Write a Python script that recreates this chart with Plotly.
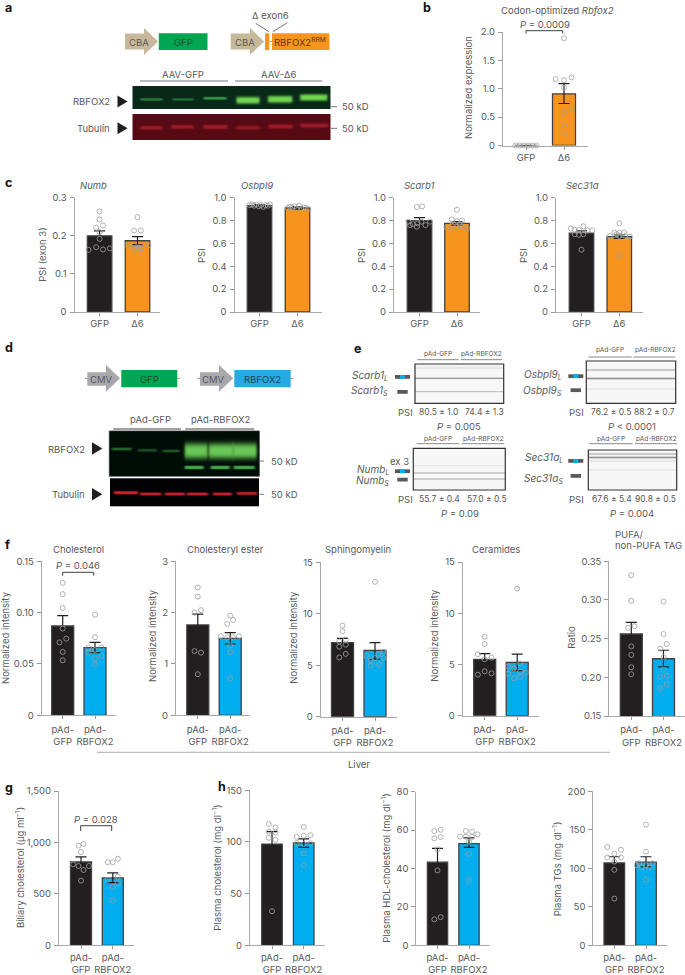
import numpy as np
import plotly.graph_objects as go

W, H = 685, 975
TXT = "#58595b"
FONT = "Inter"
BLACK, ORANGE, BLUE = "#231f20", "#f7941d", "#00aeef"

# --- values ---
# b
b_means = [0, 0.91]
b_hi = [0, 1.09]
b_lo = [0, 0.74]
b_gfp = [0, 0, 0, 0, 0, 0]
b_gfp_dx = [-.28, -.17, -.06, .06, .17, .28]
b_d6 = [1.89, 1.17, 1.15, 1.2, 1.02, .64, .58, .36, .21]
b_d6_dx = [0, -.22, 0, .2, 0, .2, 0, 0, 0]
# c
numb_means = [.2, .187]
numb_hi = [.213, .198]
numb_lo = [.187, .177]
numb_gfp = [.264, .243, .227, .221, .21, .192, .17, .163, .164, .167]
numb_gfp_dx = [0, 0, .09, -.09, 0, 0, -.09, -.29, .09, .27]
numb_d6 = [.249, .214, .214, .176, .174, .173, .175, .154, .167, .167]
numb_d6_dx = [0, -.09, .09, -.27, -.09, .09, .29, 0, -.09, .09]

osb_means = [.93, .91]
osb_hi = [.94, .92]
osb_lo = [.92, .90]
osb_gfp = [.935, .94, .93, .94, .925, .935, .92, .935, .93, .94]
osb_d6 = [.91, .92, .915, .925, .905, .93, .9, .915, .91, .9]
osb_dx = [-.26, -.2, -.14, -.08, -.02, .04, .1, .16, .22, .28]

sca_means = [.80, .775]
sca_hi = [.825, .79]
sca_lo = [.78, .76]
sca_gfp = [.918, .924, .79, .77, .746, .79, .76, .79, .76, .775]
sca_gfp_dx = [-.07, .07, -.3, -.18, -.07, .05, .16, .28, -.25, -.05]
sca_d6 = [.895, .81, .796, .8, .74, .755, .745, .75, .73, .77]
sca_d6_dx = [0, -.14, 0, .13, -.28, -.14, 0, .13, .27, .07]

sec_means = [.69, .66]
sec_hi = [.71, .675]
sec_lo = [.67, .645]
sec_gfp = [.73, .75, .717, .715, .715, .68, .675, .68, .545, .72]
sec_gfp_dx = [-.28, .05, -.07, .16, .28, -.18, -.07, .05, 0, -.18]
sec_d6 = [.775, .495, .695, .695, .695, .665, .665, .665, .66, .68]
sec_d6_dx = [0, 0, -.13, 0, .13, -.25, 0, .16, .28, -.07]
# f
chol_means = [.087, .066]
chol_hi = [.097, .071]
chol_lo = [.078, .061]
chol_gfp = [.129, .118, .1045, .0845, .0747, .071, .0617, .0536]
chol_gfp_dx = [0, 0, 0, 0, .11, -.1, 0, 0]
chol_rb = [.098, .076, .066, .066, .061, .058, .0555, .0497, .0636]
chol_rb_dx = [0, 0, -.2, .2, -.2, .2, 0, 0, 0]

ce_means = [1.76, 1.5]
ce_hi = [1.97, 1.61]
ce_lo = [1.55, 1.39]
ce_gfp = [2.49, 2.31, 2.05, 2.0, 1.25, 1.22, .8]
ce_gfp_dx = [0, 0, .1, -.1, -.1, .1, 0]
ce_rb = [1.94, 1.86, 1.78, 1.54, 1.54, 1.52, 1.52, 1.36, 1.23, .72]
ce_rb_dx = [0, .09, -.09, -.29, .27, -.09, .09, 0, 0, 0]

sm_means = [7.2, 6.45]
sm_hi = [7.6, 7.2]
sm_lo = [6.8, 5.6]
sm_gfp = [8.85, 8.3, 7.5, 7.3, 7, 6.8, 6.1, 5.75]
sm_gfp_dx = [0, 0, .1, -.1, .1, -.1, .1, -.1]
sm_rb = [13.1, 6.3, 6.1, 5.9, 5.7, 5.7, 5.45, 5.1, 4.96]
sm_rb_dx = [0, .26, .1, -.26, .26, 0, -.13, .13, -.13]

cer_means = [5.5, 5.2]
cer_hi = [6.05, 6.0]
cer_lo = [5.0, 4.4]
cer_gfp = [7.7, 7, 6, 5.67, 5.5, 4.33, 4, 4.13]
cer_gfp_dx = [0, 0, -.21, .21, 0, 0, -.21, .21]
cer_rb = [12.4, 5.1, 4.8, 4.6, 4.3, 4.1, 4.2, 3.8, 3.65]
cer_rb_dx = [0, .09, -.28, -.1, .09, -.28, .27, .09, -.1]

pufa_means = [.256, .224]
pufa_hi = [.271, .235]
pufa_lo = [.24, .2135]
pufa_gfp = [.332, .299, .266, .264, .24, .229, .213, .204]
pufa_gfp_dx = [0, 0, .1, -.1, 0, 0, 0, 0]
pufa_rb = [.298, .256, .243, .237, .226, .21, .202, .2, .191, .186]
pufa_rb_dx = [0, 0, .1, -.1, 0, 0, .1, -.1, .1, -.1]
# g
bil_means = [810, 655]
bil_hi = [860, 705]
bil_lo = [760, 610]
bil_gfp = [985, 969, 907, 787, 771, 771, 732, 629]
bil_gfp_dx = [.08, -.08, 0, -.25, -.08, .25, .08, 0]
bil_rb = [842, 807, 807, 667, 638, 603, 567, 437]
bil_rb_dx = [.16, -.16, 0, .16, -.16, .16, 0, 0]
# h
pc_means = [98, 99]
pc_hi = [110, 103]
pc_lo = [87, 95]
pc_gfp = [117.4, 114, 110, 109, 104, 102, 33]
pc_gfp_dx = [-.1, .11, -.1, .11, -.1, .11, 0]
pc_rb = [114.5, 105, 106, 106.5, 99, 98, 98.7, 89, 77.5]
pc_rb_dx = [0, -.22, 0, .21, -.22, 0, .21, 0, 0]

hdl_means = [43.3, 53]
hdl_hi = [50.5, 56]
hdl_lo = [36, 51]
hdl_gfp = [60.2, 59.5, 56.4, 55.7, 50, 39, 14.7, 13.5]
hdl_gfp_dx = [.1, -.1, .1, -.1, 0, 0, .1, -.1]
hdl_rb = [59.5, 59.2, 56.7, 56.6, 57.8, 56.5, 54, 47.6, 34]
hdl_rb_dx = [-.1, .1, -.28, -.1, .27, .1, 0, 0, 0]

tg_means = [107, 108]
tg_hi = [115, 115]
tg_lo = [100, 102]
tg_gfp = [127.7, 124, 119, 114, 114, 108.7, 98, 60.6]
tg_gfp_dx = [-.22, .21, 0, -.22, .21, 0, 0, 0]
tg_rb = [156.7, 121.6, 106.5, 106.5, 104, 104, 101, 101, 85]
tg_rb_dx = [0, 0, -.21, .21, -.3, 0, -.14, .1, 0]

d6_labels = ["GFP", "Δ6"]
pad_labels = ["pAd-<br>GFP", "pAd-<br>RBFOX2"]

# name, box (left, right, top, bottom), bar centres, bar width, y range, ticks, labels...
panels = [
    dict(box=(503, 588, 32, 145.5), c=(526, 564), bw=23, yr=(0, 2), yt=[0, .5, 1, 1.5, 2], yl=["0", "0.5", "1.0", "1.5", "2.0"],
         xl=d6_labels, col=ORANGE, m=b_means, hi=b_hi, lo=b_lo, a=(b_gfp, b_gfp_dx), b=(b_d6, b_d6_dx),
         yt_txt="Normalized expression", yt_pos=(468, 88)),
    dict(box=(74.5, 160, 197.7, 312), c=(99.6, 137.5), bw=24.5, yr=(0, .3), yt=[0, .1, .2, .3], yl=["0", "0.1", "0.2", "0.3"],
         xl=d6_labels, col=ORANGE, m=numb_means, hi=numb_hi, lo=numb_lo, a=(numb_gfp, numb_gfp_dx), b=(numb_d6, numb_d6_dx),
         yt_txt="PSI (exon 3)", yt_pos=(41.7, 255), title="<i>Numb</i>", tp=(93, 185)),
    dict(box=(234.5, 322, 197.7, 312), c=(259.5, 297.5), bw=24.5, yr=(0, 1), yt=[0, .2, .4, .6, .8, 1], yl=["0", "0.2", "0.4", "0.6", "0.8", "1.0"],
         xl=d6_labels, col=ORANGE, m=osb_means, hi=osb_hi, lo=osb_lo, a=(osb_gfp, osb_dx), b=(osb_d6, osb_dx),
         yt_txt="PSI", yt_pos=(201, 256), title="<i>Osbpl9</i>", tp=(257, 185)),
    dict(box=(394, 480, 197.7, 312), c=(419.5, 457), bw=24.5, yr=(0, 1), yt=[0, .2, .4, .6, .8, 1], yl=["0", "0.2", "0.4", "0.6", "0.8", "1.0"],
         xl=d6_labels, col=ORANGE, m=sca_means, hi=sca_hi, lo=sca_lo, a=(sca_gfp, sca_gfp_dx), b=(sca_d6, sca_d6_dx),
         yt_txt="PSI", yt_pos=(361, 256), title="<i>Scarb1</i>", tp=(419, 185)),
    dict(box=(556, 642.5, 197.7, 312), c=(581.5, 619.3), bw=24.5, yr=(0, 1), yt=[0, .2, .4, .6, .8, 1], yl=["0", "0.2", "0.4", "0.6", "0.8", "1.0"],
         xl=d6_labels, col=ORANGE, m=sec_means, hi=sec_hi, lo=sec_lo, a=(sec_gfp, sec_gfp_dx), b=(sec_d6, sec_d6_dx),
         yt_txt="PSI", yt_pos=(523, 256), title="<i>Sec31a</i>", tp=(582, 185)),
    dict(box=(41.7, 116, 561.3, 715.3), c=(62.7, 95), bw=22, yr=(0, .15), yt=[0, .05, .1, .15], yl=["0", "0.05", "0.10", "0.15"],
         xl=pad_labels, col=BLUE, m=chol_means, hi=chol_hi, lo=chol_lo, a=(chol_gfp, chol_gfp_dx), b=(chol_rb, chol_rb_dx),
         yt_txt="Normalized intensity", yt_pos=(5, 638), title="Cholesterol", tp=(78, 549)),
    dict(box=(176, 250, 561.3, 715.3), c=(197.8, 230.2), bw=22, yr=(0, 3), yt=[0, 1, 2, 3], yl=["0", "1", "2", "3"],
         xl=pad_labels, col=BLUE, m=ce_means, hi=ce_hi, lo=ce_lo, a=(ce_gfp, ce_gfp_dx), b=(ce_rb, ce_rb_dx),
         yt_txt="Normalized intensity", yt_pos=(152.3, 635.7), title="Cholesteryl ester", tp=(225.7, 549)),
    dict(box=(320.7, 396.7, 562.3, 716.7), c=(342.5, 375), bw=22, yr=(0, 15), yt=[0, 5, 10, 15], yl=["0", "5", "10", "15"],
         xl=pad_labels, col=BLUE, m=sm_means, hi=sm_hi, lo=sm_lo, a=(sm_gfp, sm_gfp_dx), b=(sm_rb, sm_rb_dx),
         yt_txt="Normalized intensity", yt_pos=(292.7, 637), title="Sphingomyelin", tp=(358, 549)),
    dict(box=(462.7, 539, 562, 715.7), c=(484.7, 517.2), bw=22, yr=(0, 15), yt=[0, 5, 10, 15], yl=["0", "5", "10", "15"],
         xl=pad_labels, col=BLUE, m=cer_means, hi=cer_hi, lo=cer_lo, a=(cer_gfp, cer_gfp_dx), b=(cer_rb, cer_rb_dx),
         yt_txt="Normalized intensity", yt_pos=(435, 635.7), title="Ceramides", tp=(495.7, 549)),
    dict(box=(609.3, 685, 561.3, 716), c=(631.3, 663.5), bw=22, yr=(.15, .35), yt=[.15, .2, .25, .3, .35], yl=["0.15", "0.20", "0.25", "0.30", "0.35"],
         xl=pad_labels, col=BLUE, m=pufa_means, hi=pufa_hi, lo=pufa_lo, a=(pufa_gfp, pufa_gfp_dx), b=(pufa_rb, pufa_rb_dx),
         yt_txt="Ratio", yt_pos=(572, 637.7)),
    dict(box=(59, 134, 791, 945.3), c=(81, 112.8), bw=21, yr=(0, 1500), yt=[0, 500, 1000, 1500], yl=["0", "500", "1,000", "1,500"],
         xl=pad_labels, col=BLUE, m=bil_means, hi=bil_hi, lo=bil_lo, a=(bil_gfp, bil_gfp_dx), b=(bil_rb, bil_rb_dx),
         yt_txt="Biliary cholesterol (µg ml<sup>−1</sup>)", yt_pos=(20, 868)),
    dict(box=(250, 324.7, 790.3, 945.3), c=(272, 303.7), bw=20.6, yr=(0, 150), yt=[0, 50, 100, 150], yl=["0", "50", "100", "150"],
         xl=pad_labels, col=BLUE, m=pc_means, hi=pc_hi, lo=pc_lo, a=(pc_gfp, pc_gfp_dx), b=(pc_rb, pc_rb_dx),
         yt_txt="Plasma cholesterol (mg dl<sup>−1</sup>)", yt_pos=(216.7, 868)),
    dict(box=(416.3, 489.7, 791.7, 945.3), c=(437.5, 469), bw=20.3, yr=(0, 80), yt=[0, 20, 40, 60, 80], yl=["0", "20", "40", "60", "80"],
         xl=pad_labels, col=BLUE, m=hdl_means, hi=hdl_hi, lo=hdl_lo, a=(hdl_gfp, hdl_gfp_dx), b=(hdl_rb, hdl_rb_dx),
         yt_txt="Plasma HDL-cholesterol (mg dl<sup>−1</sup>)", yt_pos=(385.7, 868)),
    dict(box=(593.3, 667, 791.3, 945.3), c=(614.3, 646), bw=20.6, yr=(0, 200), yt=[0, 50, 100, 150, 200], yl=["0", "50", "100", "150", "200"],
         xl=pad_labels, col=BLUE, m=tg_means, hi=tg_hi, lo=tg_lo, a=(tg_gfp, tg_gfp_dx), b=(tg_rb, tg_rb_dx),
         yt_txt="Plasma TGs (mg dl<sup>−1</sup>)", yt_pos=(557.3, 869)),
]

fig = go.Figure()
ann, shp = [], []


def text(x, y, s, size=9.5, color=TXT, anchor="center", angle=0):
    ann.append(dict(x=x, y=y, xref="x99", yref="y99", text=s, showarrow=False, xanchor=anchor, yanchor="middle",
                    textangle=angle, align="left" if anchor == "left" else "center",
                    font=dict(family=FONT, size=size, color=color)))


def line(x0, y0, x1, y1, color="#777777", width=1):
    shp.append(dict(type="line", xref="x99", yref="y99", x0=x0, y0=y0, x1=x1, y1=y1, line=dict(color=color, width=width)))


def rect(x0, y0, x1, y1, fill, border=None, width=1):
    shp.append(dict(type="rect", xref="x99", yref="y99", x0=x0, y0=y0, x1=x1, y1=y1, fillcolor=fill,
                    line=dict(color=border or fill, width=width if border else 0)))


def poly(points, fill):
    path = "M" + " L".join(f"{x},{y}" for x, y in points) + " Z"
    shp.append(dict(type="path", xref="x99", yref="y99", path=path, fillcolor=fill, line=dict(width=0)))


def arrow(x0, xh, xt, yb0, yb1, yh0, yh1, fill):
    poly([(x0, yb0), (xh, yb0), (xh, yh0), (xt, (yh0 + yh1) / 2), (xh, yh1), (xh, yb1), (x0, yb1)], fill)


def bracket(x0, x1, y, tip):
    shp.append(dict(type="path", xref="x99", yref="y99", path=f"M{x0},{tip} L{x0},{y} L{x1},{y} L{x1},{tip}",
                    line=dict(color="#414042", width=1)))


def gel(x0, y0, x1, y1, bg, bands):
    # soft-edged bands painted on a small picture of the blot
    w, h = int(round(x1 - x0)), int(round(y1 - y0))
    xs, ys = np.arange(w) + x0 + .5, np.arange(h) + y0 + .5
    img = np.ones((h, w, 3)) * np.array(bg, dtype=float)
    for bx0, bx1, yc, th, col, op in bands:
        ax = .5 * (np.tanh((xs - bx0) / 1.5) - np.tanh((xs - bx1) / 1.5))
        ay = np.exp(-np.abs((ys - yc) / th) ** 3)
        a = op * np.outer(ay, ax)[..., None]
        img = img * (1 - a) + np.array(col, dtype=float) * a
    fig.add_trace(go.Image(z=img.round().astype(int).tolist(), x0=x0 + .5, y0=y0 + .5, dx=1, dy=1,
                           xaxis="x99", yaxis="y99", hoverinfo="skip"))


# bar panels
for i, p in enumerate(panels, start=1):
    L, R, T, B = p["box"]
    c0, c1 = p["c"]
    s = c1 - c0
    xa, ya = f"x{i}", f"y{i}"
    up = [h - m for h, m in zip(p["hi"], p["m"])]
    dn = [m - l for l, m in zip(p["lo"], p["m"])]
    fig.add_trace(go.Bar(x=[0, 1], y=p["m"], width=p["bw"] / s, xaxis=xa, yaxis=ya, marker_color=[BLACK, p["col"]],
                         marker_line=dict(color="#414042", width=1.3),
                         error_y=dict(type="data", symmetric=False, array=up, arrayminus=dn, color=BLACK, thickness=1.2, width=5.5)))
    for k, key in enumerate(["a", "b"]):
        vals, dx = p[key]
        fig.add_trace(go.Scatter(x=[k + d for d in dx], y=vals, mode="markers", xaxis=xa, yaxis=ya, cliponaxis=False,
                                 marker=dict(symbol="circle-open", size=5, color="#a0a0a0", line=dict(width=.8))))
    fig.update_layout(**{
        f"xaxis{i if i > 1 else ''}": dict(domain=[L / W, R / W], range=[(L - c0) / s, (R - c0) / s], anchor=ya,
                                           tickvals=[0, 1], ticktext=p["xl"], ticks="outside", ticklen=3, tickcolor="#999999",
                                           ticklabelstandoff=2 if p["xl"] is pad_labels and B < 800 else 0,
                                           tickangle=0, showline=True, linecolor="#aaaaaa", linewidth=1, showgrid=False, zeroline=False,
                                           tickfont=dict(family=FONT, size=9.5, color=TXT)),
        f"yaxis{i if i > 1 else ''}": dict(domain=[1 - B / H, 1 - T / H], range=list(p["yr"]), anchor=xa,
                                           tickvals=p["yt"], ticktext=p["yl"], ticks="outside", ticklen=4, tickcolor="#999999",
                                           ticklabelstandoff=1,
                                           showline=True, linecolor="#aaaaaa", linewidth=1, showgrid=False, zeroline=False,
                                           tickfont=dict(family=FONT, size=9.5, color=TXT)),
    })
    text(p["yt_pos"][0], p["yt_pos"][1], p["yt_txt"], angle=-90)
    if "title" in p:
        text(p["tp"][0], p["tp"][1], p["title"])

# panel letters
for ch, x, y in [("a", 3, 7), ("b", 421, 7), ("c", 3, 182), ("d", 3, 347.7), ("e", 351.7, 348),
                 ("f", 3, 544), ("g", 3, 787.7), ("h", 216, 786.7)]:
    text(x, y, f"<b>{ch}</b>", size=12.5, color="#111111", anchor="left")

# b extras
text(557, 10.7, "Codon-optimized <i>Rbfox2</i>")
text(544.7, 24, "<i>P</i> = 0.0009")
bracket(526, 562.7, 30.7, 33.5)

# f, g extras
text(77.7, 565.7, "<i>P</i> = 0.046")
bracket(62.7, 93.7, 572.3, 575.7)
text(96.3, 819.7, "<i>P</i> = 0.028")
bracket(80.7, 111.7, 825.7, 831)
text(613, 534, "PUFA/", anchor="left")
text(613, 545.7, "non-PUFA TAG", anchor="left")
line(97, 752.3, 610, 752.3, "#aaaaaa")
text(346, 764, "Liver", anchor="left")

# a: constructs
TAN = "#c8b89a"
arrow(125, 144, 158, 33.5, 49.5, 28, 55, TAN)
rect(158.8, 33.3, 207.5, 50, "#00a651")
arrow(230.7, 250, 264, 33.5, 49.5, 28, 55, TAN)
rect(265, 33.3, 269.3, 50, ORANGE)
line(269.3, 41.5, 272, 41.5, ORANGE)
rect(272, 33.3, 329.4, 50, ORANGE)
text(138.6, 42, "CBA")
text(183, 42, "GFP", color="#1f4a33")
text(244.7, 42, "CBA")
text(300, 42, "RBFOX2<sup>RRM</sup>", color="#5c3a10")
text(270.6, 15, "Δ exon6")
line(255.7, 23.3, 268.9, 31.7)
line(287.3, 22.7, 272.8, 31.7)

# a: blots
text(183.3, 74, "AAV-GFP")
line(140, 81, 228, 81)
text(279.4, 74, "AAV-Δ6")
line(235, 81, 322.4, 81)
GR, LG = (60, 170, 80), (115, 215, 80)
gel(132.5, 86, 331, 109.3, (8, 40, 24), [
    (140, 162, 99.5, 1.4, GR, .65), (172, 193, 99.5, 1.3, GR, .55), (203, 226, 98.3, 1.5, GR, .85),
    (236, 259, 100.3, 3.6, LG, 1), (267.5, 291.7, 99.3, 3.6, LG, 1), (299.6, 326.8, 97.5, 3.4, LG, 1)])
gel(132.5, 114, 331, 140, (88, 10, 20), [
    (140, 162, 127.7, 2, (170, 30, 45), .8), (171, 193, 127, 2, (170, 30, 45), .85), (203, 227, 127, 2.2, (170, 30, 45), .85),
    (236, 259, 127.7, 2, (170, 30, 45), .7), (268, 292, 126.5, 2.2, (170, 30, 45), .85), (300, 328, 125.5, 2.2, (170, 30, 45), .8)])
text(112, 101.7, "RBFOX2", anchor="right")
text(112, 128.3, "Tubulin", anchor="right")
poly([(117.5, 95.5), (127.6, 101.5), (117.5, 107.5)], "#231f20")
poly([(117.5, 122.3), (127.6, 128.3), (117.5, 134.3)], "#231f20")
for y in (106.7, 128.3):
    line(331, y, 337, y)
    text(340, y, "50 kD", anchor="left")

# d: constructs
GREY = "#a7a9ac"
line(85, 378.3, 90, 378.3, "#888888")
arrow(87.3, 106, 120, 372.3, 385.7, 365, 391.7, GREY)
rect(121.3, 370, 177.3, 387.3, "#00a651")
line(177.3, 378.3, 180, 378.3, "#888888")
line(197.5, 378.3, 201, 378.3, "#888888")
arrow(200, 219, 233.3, 372.3, 385.7, 365, 391.7, GREY)
rect(234.3, 370, 290.7, 387.3, "#27aae1")
line(290.7, 378.3, 293.5, 378.3, "#888888")
text(101.3, 379, "CMV")
text(213.7, 379, "CMV")
text(149.3, 379, "GFP", color="#1f4a33")
text(262.3, 379, "RBFOX2", color="#17475c")

# d: blots
text(150.7, 419.7, "pAd-GFP")
line(113.3, 429, 181, 429, "#414042")
text(221.3, 419.7, "pAd-RBFOX2")
line(185.3, 429, 254, 429, "#414042")
G2, G3 = (70, 175, 75), (105, 200, 85)
gel(109.3, 431, 259.3, 476.3, (0, 12, 6), [
    (112, 132, 449, 1.5, G2, .55), (138, 157, 450.3, 1.5, G2, .4), (163, 180, 451, 1.5, G2, .45),
    (185, 208, 451, 8, G3, 1), (209, 234, 451, 8, G3, 1), (233, 257, 451, 8, G3, 1),
    (185, 204, 467.5, 1.8, G2, 1), (211, 230, 467.5, 1.8, G2, 1), (234, 255, 467.5, 1.8, G2, 1)])
gel(110, 478.3, 259.3, 506, (2, 2, 4), [(114, 138, 493, 1.7, (215, 30, 45), 1), (140, 161, 494.3, 1.6, (215, 30, 45), .95),
                                        (165, 185, 494.3, 1.6, (215, 30, 45), .95), (187, 208, 494.3, 1.6, (215, 30, 45), .95),
                                        (213, 232, 494.3, 1.6, (215, 30, 45), .95), (237, 257, 493.7, 1.6, (215, 30, 45), .95)])
rect(109.3, 431, 259.3, 476.3, "rgba(0,0,0,0)", "#333333", .8)
text(87.3, 449, "RBFOX2", anchor="right")
text(87, 494.3, "Tubulin", anchor="right")
poly([(92, 442.3), (102.3, 448.5), (92, 454.7)], "#231f20")
poly([(92, 488), (102.3, 494.2), (92, 500.4)], "#231f20")
for y in (461, 494.3):
    line(259.5, y, 264, y)
    text(268.7, y, "50 kD", anchor="left")

# e: splicing gels
LIGHT = (247, 247, 247)
DK, MD, FT = (150, 150, 150), (195, 195, 195), (230, 230, 230)


def splice(x0, y0, x1, y1, bands):
    gel(x0, y0, x1, y1, LIGHT, [(x0 - 5, x1 + 5, y, th, col, 1) for y, th, col in bands])
    rect(x0, y0, x1, y1, "rgba(0,0,0,0)", "#333333", 1.2)


def marks(x, y1, y2, w1=15, w2=10.4):
    rect(x, y1, x + w1, y1 + 3.8, "#58595b")
    rect(x + 5, y1, x + w1 - 5, y1 + 3.8, BLUE)
    rect(x + (w1 - w2) / 2, y2, x + (w1 + w2) / 2, y2 + 3.8, "#58595b")


def header(yt, yl, c1, c2, l1, l2):
    text(c1, yt, "pAd-GFP", size=6.5)
    text(c2, yt, "pAd-RBFOX2", size=6.5)
    line(l1[0], yl, l1[1], yl, "#8a8a8a")
    line(l2[0], yl, l2[1], yl, "#8a8a8a")


splice(415, 364, 503.7, 403.3, [(378.3, .8, DK), (391.7, .7, MD), (368, 1.3, FT)])
header(353.7, 359.7, 438, 481.3, (417.3, 458.7), (460.7, 502))
text(390, 375.7, "<i>Scarb1<sub>L</sub></i>", size=10, anchor="right")
text(390, 391, "<i>Scarb1<sub>S</sub></i>", size=10, anchor="right")
marks(395, 375, 390)
text(405, 412, "PSI", size=9.5, anchor="center")
text(438.3, 412, "80.5 ± 1.0", size=8.5)
text(484, 412, "74.4 ± 1.3", size=8.5)
text(459.3, 426, "<i>P</i> = 0.005")

splice(586.3, 361, 675.7, 403.3, [(370, 1, MD), (378.5, 1, DK), (389, .8, FT)])
header(350.3, 357, 610, 655, (588.3, 631.7), (633.3, 675))
text(564, 375, "<i>Osbpl9<sub>L</sub></i>", size=10, anchor="right")
text(564, 391, "<i>Osbpl9<sub>S</sub></i>", size=10, anchor="right")
marks(568.3, 374.3, 388.3)
text(576, 412, "PSI")
text(610.7, 412, "76.2 ± 0.5", size=8.5)
text(654.3, 412, "88.2 ± 0.7", size=8.5)
text(632, 426, "<i>P</i> &lt; 0.0001")

splice(413.3, 448.3, 505.3, 490, [(473.3, .8, MD), (479.3, .8, MD), (466, .8, FT)])
header(438.7, 443.7, 438, 483.3, (416.7, 459.3), (461.7, 504.3))
text(410.7, 461.7, "ex 3", size=9.5, anchor="right")
text(390.7, 470, "<i>Numb<sub>L</sub></i>", size=10, anchor="right")
text(390.7, 481, "<i>Numb<sub>S</sub></i>", size=10, anchor="right")
marks(395, 469.3, 477.7)
text(405, 499, "PSI")
text(439, 499, "55.7 ± 0.4", size=8.5)
text(486.7, 499, "57.0 ± 0.5", size=8.5)
text(460, 513.3, "<i>P</i> = 0.09")

splice(588.3, 450, 676.7, 490, [(454, 1, MD), (457.5, 1, DK), (461, 1.3, FT), (470, .8, FT)])
header(438.7, 443.7, 611, 656, (589, 632.7), (635, 677.3))
text(565, 458.3, "<i>Sec31a<sub>L</sub></i>", size=10, anchor="right")
text(565, 479, "<i>Sec31a<sub>S</sub></i>", size=10, anchor="right")
marks(568.3, 459, 474)
text(576, 499, "PSI")
text(612.3, 499, "67.6 ± 5.4", size=8.5)
text(655, 499, "90.8 ± 0.5", size=8.5)
text(632.3, 513.3, "<i>P</i> = 0.004")

fig.update_layout(
    width=W, height=H, margin=dict(l=0, r=0, t=0, b=0, pad=0, autoexpand=False), showlegend=False, paper_bgcolor="white",
    plot_bgcolor="rgba(0,0,0,0)", annotations=ann, shapes=shp,
    xaxis99=dict(domain=[0, 1], range=[0, W], visible=False, anchor="y99", fixedrange=True),
    yaxis99=dict(domain=[0, 1], range=[H, 0], visible=False, anchor="x99", fixedrange=True),
)
fig.write_html("out.html", config=dict(displayModeBar=False), post_script="document.body.style.margin='0';")
